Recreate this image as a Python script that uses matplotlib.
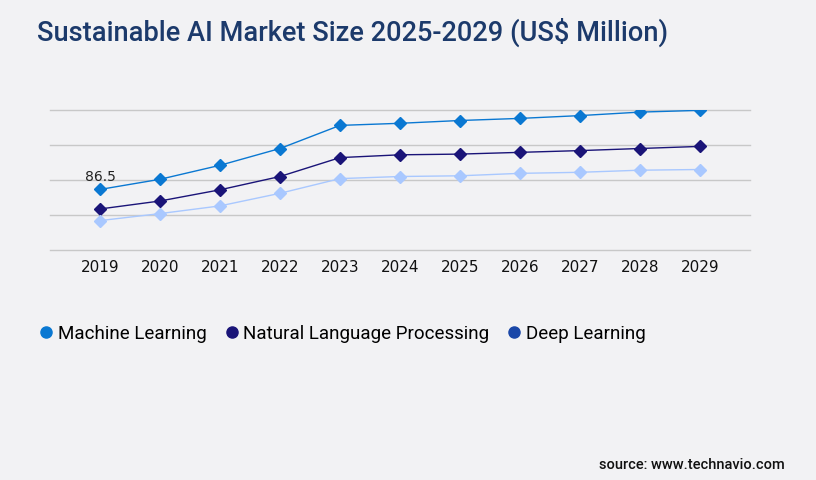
import matplotlib.pyplot as plt
from matplotlib.lines import Line2D

years = ['2019', '2020', '2021', '2022', '2023', '2024', '2025', '2026', '2027', '2028', '2029']
machine_learning = [86.5, 101, 121, 145, 178, 181, 185, 188, 192, 197, 199.5]
nlp = [58.6, 70, 86, 105, 132, 136, 137, 139.5, 142, 145, 148]
deep_learning = [42, 52, 63, 81, 102, 105, 106, 109.5, 111, 114, 115]

series_names = ['Machine Learning', 'Natural Language Processing', 'Deep Learning']
line_colors = ['#0a78d2', '#1a1478', '#a9c8ff']
legend_colors = ['#0a78d2', '#1a1478', '#1a47a8']

bg = '#f2f2f4'
fig = plt.figure(figsize=(8.16, 4.8), dpi=100, facecolor=bg)
ax = fig.add_axes([50 / 816, 1 - 250 / 480, 700 / 816, 140 / 480])
ax.set_facecolor(bg)

x = list(range(len(years)))
for vals, c in zip([machine_learning, nlp, deep_learning], line_colors):
    ax.plot(x, vals, color=c, lw=1.0, marker='D', markersize=6.5, zorder=3)

ax.text(x[0], machine_learning[0] + 8, f'{machine_learning[0]}', ha='center', va='bottom',
        fontsize=10, family='DejaVu Sans', color='#222222')

ax.set_xlim(-0.833, 10.833)
ax.set_ylim(0, 200)
ax.set_yticks([0, 50, 100, 150, 200])
ax.yaxis.grid(True, color='#c8c8c8', lw=1)
for gl in ax.get_ygridlines():
    gl.set_clip_on(False)
ax.set_axisbelow(True)
ax.tick_params(axis='y', left=False, labelleft=False)
ax.tick_params(axis='x', length=0, pad=7, labelsize=11)
ax.set_xticks(x)
ax.set_xticklabels(years, family='DejaVu Sans', color='#111111')
for s in ax.spines.values():
    s.set_visible(False)

fig.text(37 / 816, 1 - 32 / 480, 'Sustainable AI Market Size 2025-2029 (US$ Million)',
         fontsize=19.6, family='Roboto', fontweight='medium', color='#1c3a6b', va='center')

handles = [Line2D([], [], ls='none', marker='o', markersize=8, color=c) for c in legend_colors]
fig.legend(handles, series_names, loc='center left', bbox_to_anchor=(20 / 816, 1 - 334 / 480),
           ncol=3, frameon=False, handletextpad=0.1, columnspacing=0.85,
           prop={'family': 'Roboto', 'size': 13.5}, handlelength=1.0)

fig.text(785 / 816, 1 - 465 / 480, 'source: www.technavio.com', ha='right', va='center',
         fontsize=10.5, family='Roboto', fontweight='medium', color='#111111')

fig.savefig('out.png', dpi=100, facecolor=bg)
